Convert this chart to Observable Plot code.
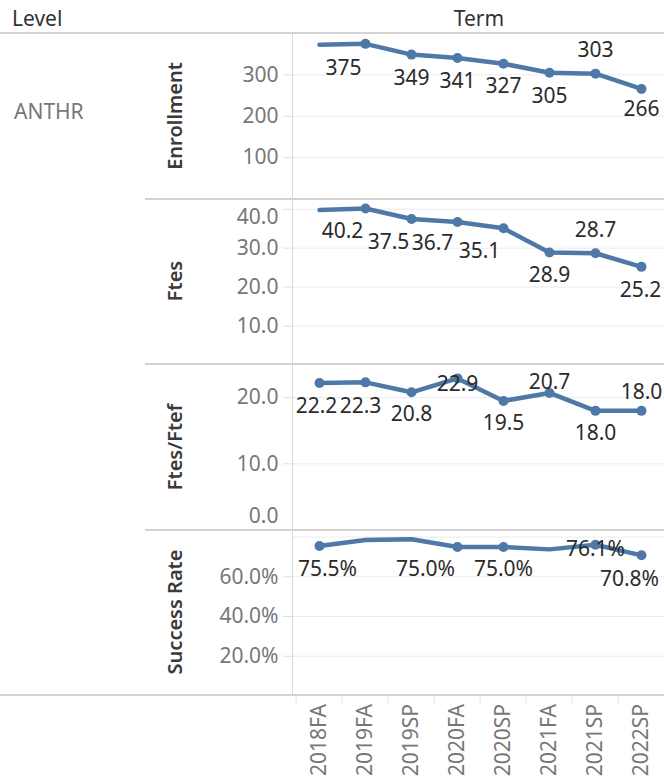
<!DOCTYPE html>
<html>
<head>
<meta charset="utf-8">
<script src="https://cdn.jsdelivr.net/npm/d3@7"></script>
<script src="https://cdn.jsdelivr.net/npm/@observablehq/plot@0.6"></script>
<style>
  html, body { margin: 0; padding: 0; background: #fff; }
  #root { position: relative; width: 664px; height: 782px; overflow: hidden; background: #fff;
          font-family: "Noto Sans", sans-serif; }
  .hline { position: absolute; height: 2px; background: #d3d3d3; }
  .vline { position: absolute; width: 1px; background: #d9d9d9; }
  .hdr { position: absolute; font-size: 21px; color: #333; line-height: 1; }
  .mtitle { position: absolute; font-size: 20px; font-weight: 600; color: #3a3a3a; white-space: nowrap;
            transform: translate(-50%, -50%) rotate(-90deg); line-height: 1; }
  #root svg [aria-label="y-axis tick"] { stroke: #dedede; }
  #root svg [aria-label="x-axis tick label"] { fill: #777; }
  #root svg [aria-label="x-axis tick"] { stroke: #e6e6e6; }
</style>
</head>
<body>
<div id="root"></div>
<script>
// ---------------- data ----------------
const terms = ["2018FA","2019FA","2019SP","2020FA","2020SP","2021FA","2021SP","2022SP"];
const level = "ANTHR";
const enrollment  = [373, 375, 349, 341, 327, 305, 303, 266];
const enrollmentShown = [false, true, true, true, true, true, true, true];
const ftes        = [39.8, 40.2, 37.5, 36.7, 35.1, 28.9, 28.7, 25.2];
const ftesShown   = [false, true, true, true, true, true, true, true];
const ftesFtef    = [22.2, 22.3, 20.8, 22.9, 19.5, 20.7, 18.0, 18.0];
const ftesFtefShown = [true, true, true, true, true, true, true, true];
const successRate = [0.755, 0.785, 0.789, 0.750, 0.750, 0.738, 0.761, 0.708];
const successShown = [true, false, false, true, true, false, true, true];
const measureNames = ["Enrollment", "Ftes", "Ftes/Ftef", "Success Rate"];
const enrollmentTicks = [100, 200, 300];
const ftesTicks = [10, 20, 30, 40];
const ftesFtefTicks = [0, 10, 20];
const successTicks = [0.2, 0.4, 0.6];

// ---------------- layout ----------------
const W = 664, paneH = 165.5, paneTops = [33, 198.5, 364, 529.5];
const axisX0 = 292;
const blue = "#4e79a7";
const FS = 21;
const root = document.getElementById("root");
function addDiv(cls, style, text) {
  const d = document.createElement("div");
  d.className = cls;
  Object.assign(d.style, style);
  if (text != null) d.textContent = text;
  root.appendChild(d);
  return d;
}

const fmtInt = d3.format("d"), fmt1 = d3.format(".1f"), fmtPct = d3.format(".1%");

const panels = [
  { values: enrollment, shown: enrollmentShown, domain: [0, 400], grid: [100, 200, 300], ticks: enrollmentTicks,
    tickFmt: fmtInt, labFmt: fmtInt, tickShift: {},
    place: {"2019FA": [-22, 24], "2019SP": [0, 24], "2020FA": [0, 23], "2020SP": [0, 23], "2021FA": [0, 23], "2021SP": [0, -23], "2022SP": [0, 20]} },
  { values: ftes, shown: ftesShown, domain: [0, 42.5], grid: [10, 20, 30, 40], ticks: ftesTicks,
    tickFmt: fmt1, labFmt: fmt1, tickShift: {40: 8},
    place: {"2019FA": [-23, 23], "2019SP": [-23, 23], "2020FA": [-25, 21], "2020SP": [-24, 23], "2021FA": [0, 23], "2021SP": [0, -23], "2022SP": [-1, 23]} },
  { values: ftesFtef, shown: ftesFtefShown, domain: [0, 25], grid: [10, 20], ticks: ftesFtefTicks,
    tickFmt: fmt1, labFmt: fmt1, tickShift: {0: -14},
    place: {"2018FA": [-3, 23], "2019FA": [-5, 24], "2019SP": [0, 22], "2020FA": [0, 6], "2020SP": [0, 22], "2021FA": [0, -11], "2021SP": [0, 22], "2022SP": [0, -19]} },
  { values: successRate, shown: successShown, domain: [0, 0.833], grid: [0.2, 0.4, 0.6, 0.8], ticks: successTicks,
    tickFmt: fmtPct, labFmt: fmtPct, tickShift: {},
    place: {"2018FA": [8, 23], "2020FA": [-32, 22], "2020SP": [0, 22], "2021SP": [0, 4], "2022SP": [-12, 24]} }
];

panels.forEach((p, i) => {
  const last = i === panels.length - 1;
  const data = terms.map((t, j) => ({term: t, value: p.values[j], shown: p.shown[j]}));
  const labeled = data.filter(d => d.shown);
  const marks = [
    Plot.gridY(p.grid, {stroke: "#ebebeb", strokeOpacity: 1, strokeWidth: 1}),
    Plot.axisY(p.ticks, {tickSize: 9, text: null, label: null}),
  ];
  p.ticks.forEach(t => {
    marks.push(Plot.text([t], {y: d => d, frameAnchor: "left", textAnchor: "end",
      dx: -14, dy: p.tickShift[t] || 0, text: d => p.tickFmt(d), fill: "#777", fontSize: FS, lineAnchor: "middle"}));
  });
  marks.push(Plot.line(data, {x: "term", y: "value", stroke: blue, strokeWidth: 4.5, strokeLinejoin: "round", strokeLinecap: "round"}));
  marks.push(Plot.dot(labeled, {x: "term", y: "value", r: 5, fill: blue, stroke: null}));
  labeled.forEach(d => {
    const [dx, dy] = p.place[d.term] || [0, 22];
    marks.push(Plot.text([d], {x: "term", y: "value", text: e => p.labFmt(e.value), dx, dy,
      fill: "#2b2b2b", fontSize: FS, lineAnchor: "middle"}));
  });
  if (last) {
    marks.push(Plot.axisX({tickRotate: -90, tickSize: 0, tickPadding: 8, fontSize: FS, label: null}));
    marks.push(Plot.axisX({text: null, tickSize: 9, dx: -23.3, label: null}));
  }
  const chart = Plot.plot({
    width: W,
    height: paneH + (last ? 87 : 0),
    marginLeft: axisX0, marginRight: 0, marginTop: 0, marginBottom: last ? 87 : 0,
    style: {fontFamily: "Noto Sans", fontSize: FS + "px", background: "transparent", overflow: "visible", color: "#333"},
    x: {type: "point", domain: terms, padding: 0.5, range: [293, 666], axis: null},
    y: {domain: p.domain, axis: null},
    marks
  });
  chart.style.position = "absolute";
  chart.style.left = "0px";
  chart.style.top = paneTops[i] + "px";
  root.appendChild(chart);

  // measure title
  addDiv("mtitle", {left: "175px", top: (paneTops[i] + paneH / 2) + "px"}, measureNames[i]);
});

// headers and rules
addDiv("hdr", {left: "12px", top: "8px"}, "Level");
addDiv("hdr", {left: "479px", top: "8px", transform: "translateX(-50%)"}, "Term");
addDiv("hdr", {left: "14px", top: "101px", color: "#777"}, level);
addDiv("hline", {left: "0px", top: "32px", width: W + "px"});
[198.5, 364, 529.5].forEach(y => addDiv("hline", {left: "145px", top: (y - 1) + "px", width: (W - 145) + "px"}));
addDiv("hline", {left: "0px", top: "694px", width: W + "px"});
addDiv("vline", {left: axisX0 + "px", top: "33px", height: "662px"});
</script>
</body>
</html>
